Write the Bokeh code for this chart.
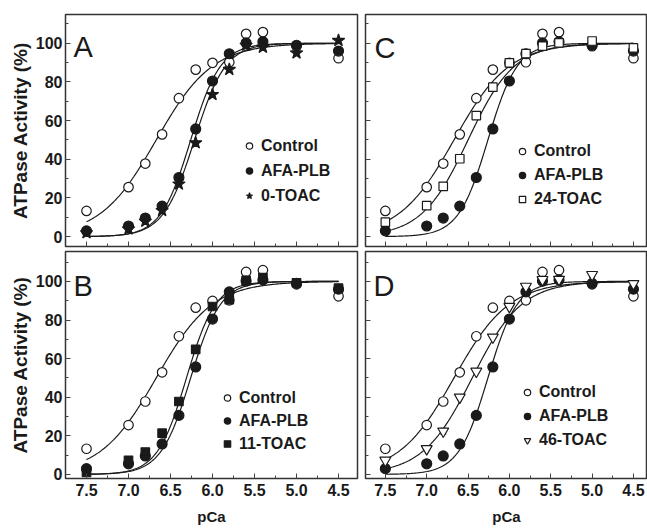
import numpy as np
from bokeh.plotting import figure
from bokeh.layouts import column, row
from bokeh.models import (Range1d, FixedTicker, PrintfTickFormatter, Legend,
                          LegendItem, Label, Whisker, ColumnDataSource, TeeHead,
                          CustomLabelingPolicy)
from bokeh.embed import file_html
from bokeh.resources import INLINE

# ---------------- data ----------------
pca = [7.5, 7.0, 6.8, 6.6, 6.4, 6.2, 6.0, 5.8, 5.6, 5.4, 5.0, 4.5]

control     = [13.3, 25.6, 37.8, 52.9, 71.6, 86.4, 89.9, 90.2, 104.9, 105.8, 98.5, 92.3]
control_err = [0.0, 1.5, 1.5, 1.5, 1.5, 0.0, 0.0, 0.0, 1.5, 0.0, 0.0, 0.0]
afa_plb     = [3.0, 5.5, 9.6, 15.8, 30.6, 55.7, 80.5, 94.6, 100.2, 100.8, 99.0, 96.0]
toac0       = [2.0, 4.0, 8.0, 13.5, 27.2, 48.5, 73.5, 86.5, 99.0, 98.0, 95.0, 101.5]
toac11      = [1.0, 7.3, 11.6, 21.4, 37.8, 64.8, 87.0, 90.5, 100.5, 102.0, 99.3, 96.5]
toac24      = [7.5, 16.0, 26.0, 40.3, 62.6, 77.3, 89.9, 94.7, 98.5, 100.2, 101.2, 97.6]
toac24_err  = [0.0, 1.5, 1.5, 1.5, 0.0, 1.5, 0.0, 0.0, 0.0, 0.0, 0.0, 0.0]
toac46      = [7.3, 13.3, 22.4, 40.0, 53.4, 71.1, 87.0, 97.4, 100.9, 101.0, 103.5, 98.8]
toac46_err  = [0.0, 0.0, 1.5, 0.0, 0.0, 0.0, 0.0, 0.0, 0.0, 0.0, 1.5, 0.0]

# Hill-fit parameters
fit_names = ["Control", "AFA-PLB", "0-TOAC", "11-TOAC", "24-TOAC", "46-TOAC"]
fit_pca50 = [6.67, 6.26, 6.215, 6.31, 6.50, 6.45]
fit_hill  = [1.3, 2.45, 2.35, 2.5, 1.55, 1.45]

x_ticks = [7.5, 7.0, 6.5, 6.0, 5.5, 5.0, 4.5]
x_minor = [7.25, 6.75, 6.25, 5.75, 5.25, 4.75]
y_ticks = [0, 20, 40, 60, 80, 100]
y_minor = [10, 30, 50, 70, 90, 110]

FONT = "Liberation Sans"
INK = "#1a1a1a"

curve_x = np.linspace(7.5, 4.5, 241)


def hill(name):
    i = fit_names.index(name)
    return 100.0 / (1.0 + 10.0 ** (fit_hill[i] * (curve_x - fit_pca50[i])))


styles = {
    "Control": dict(marker="circle", size=9.5, fill_color="white"),
    "AFA-PLB": dict(marker="circle", size=10, fill_color=INK),
    "0-TOAC": dict(marker="star", size=13, fill_color=INK),
    "11-TOAC": dict(marker="square", size=8.5, fill_color=INK),
    "24-TOAC": dict(marker="square", size=8.5, fill_color="white"),
    "46-TOAC": dict(marker="inverted_triangle", size=11, fill_color="white"),
}

NO_LABELS = """
for (const i of indices) indices.unset(i)
return indices
"""


def make_panel(letter, mname, mvals, merr, width, height, borders, xr, yr,
               show_xlab, show_ylab, legend_loc, legend_row, letter_pos):
    bl, br, bt, bb = borders
    p = figure(width=width, height=height, output_backend="svg",
               toolbar_location=None, x_range=Range1d(*xr), y_range=Range1d(*yr),
               min_border_left=bl, min_border_right=br, min_border_top=bt,
               min_border_bottom=bb)
    p.grid.visible = False
    p.outline_line_color = "#333333"
    p.outline_line_width = 1.5
    p.background_fill_color = "white"
    p.border_fill_color = "white"

    p.xaxis.ticker = FixedTicker(ticks=x_ticks, minor_ticks=x_minor)
    p.yaxis.ticker = FixedTicker(ticks=y_ticks, minor_ticks=y_minor)
    p.xaxis.formatter = PrintfTickFormatter(format="%.1f")
    for ax in p.axis:
        ax.axis_line_color = None
        ax.major_tick_in = 5
        ax.major_tick_out = 0
        ax.minor_tick_in = 3
        ax.minor_tick_out = 0
        ax.major_tick_line_color = "#444444"
        ax.minor_tick_line_color = "#444444"
        ax.major_label_text_font = FONT
        ax.major_label_text_font_style = "bold"
        ax.major_label_text_font_size = "16px"
        ax.major_label_text_color = INK
        ax.axis_label_text_font = FONT
        ax.axis_label_text_font_style = "bold"
        ax.axis_label_text_color = INK
    p.xaxis.major_label_standoff = 5
    p.yaxis.major_label_standoff = 3
    if not show_xlab:
        p.xaxis.major_label_policy = CustomLabelingPolicy(code=NO_LABELS)
        p.xaxis.major_label_text_font_size = "1px"
        p.xaxis.major_label_standoff = 0
    else:
        p.xaxis.axis_label = "pCa"
        p.xaxis.axis_label_text_font_size = "15px"
        p.xaxis.axis_label_standoff = 9
    if not show_ylab:
        p.yaxis.major_label_policy = CustomLabelingPolicy(code=NO_LABELS)
        p.yaxis.major_label_text_font_size = "1px"
        p.yaxis.major_label_standoff = 0
    else:
        p.yaxis.axis_label = "ATPase Activity (%)"
        p.yaxis.axis_label_text_font_size = "19px"
        p.yaxis.axis_label_standoff = 2

    # fitted curves
    for name in ["Control", "AFA-PLB", mname]:
        p.line(curve_x, hill(name), line_color=INK, line_width=1.2)

    renderers = []
    for name, vals, err in [("Control", control, control_err),
                            ("AFA-PLB", afa_plb, None),
                            (mname, mvals, merr)]:
        st = styles[name]
        src = ColumnDataSource(dict(x=pca, y=vals))
        r = p.scatter("x", "y", source=src, marker=st["marker"], size=st["size"],
                      fill_color=st["fill_color"], line_color=INK, line_width=1.2)
        renderers.append((name, r))
        if err is not None:
            lo = [v - e for v, e in zip(vals, err)]
            hi = [v + e for v, e in zip(vals, err)]
            esrc = ColumnDataSource(dict(x=pca, lo=lo, hi=hi))
            p.add_layout(Whisker(source=esrc, base="x", lower="lo", upper="hi",
                                 line_color=INK, line_width=1,
                                 upper_head=TeeHead(size=6, line_color=INK, line_width=1),
                                 lower_head=TeeHead(size=6, line_color=INK, line_width=1)))

    legend = Legend(items=[LegendItem(label=n, renderers=[r]) for n, r in renderers],
                    location=legend_loc, glyph_width=16, glyph_height=legend_row,
                    label_height=legend_row, spacing=0, padding=0, label_standoff=4,
                    background_fill_alpha=0, border_line_color=None,
                    label_text_font=FONT, label_text_font_style="bold",
                    label_text_font_size="16px", label_text_color=INK)
    p.add_layout(legend)

    p.add_layout(Label(x=letter_pos[0], y=letter_pos[1], x_units="screen",
                       y_units="screen", text=letter, text_font=FONT,
                       text_font_size="29px", text_baseline="alphabetic",
                       text_color=INK))
    return p


xr_left = (7.75, 4.274)
xr_right = (7.74, 4.33)
yr_top = (-5.1, 114.9)
yr_bot = (-2.1, 115.5)

# borders: (left, right, top, bottom) in px
pA = make_panel("A", "0-TOAC", toac0, None, 360, 250, (65, 3, 14, 2), xr_left, yr_top,
                False, True, (176, 38), 25, (8, 200))
pC = make_panel("C", "24-TOAC", toac24, toac24_err, 287, 250, (3, 0, 14, 2), xr_right, yr_top,
                False, False, (149, 35), 24, (9, 199))
pB = make_panel("B", "11-TOAC", toac11, None, 360, 281, (65, 3, 1, 53), xr_left, yr_bot,
                True, True, (154, 23), 23, (8, 193))
pD = make_panel("D", "46-TOAC", toac46, toac46_err, 287, 281, (3, 0, 1, 53), xr_right, yr_bot,
                True, False, (154, 26), 24, (8, 193))

layout = column(row(pA, pC), row(pB, pD))
open("out.html", "w").write(file_html(layout, INLINE))
